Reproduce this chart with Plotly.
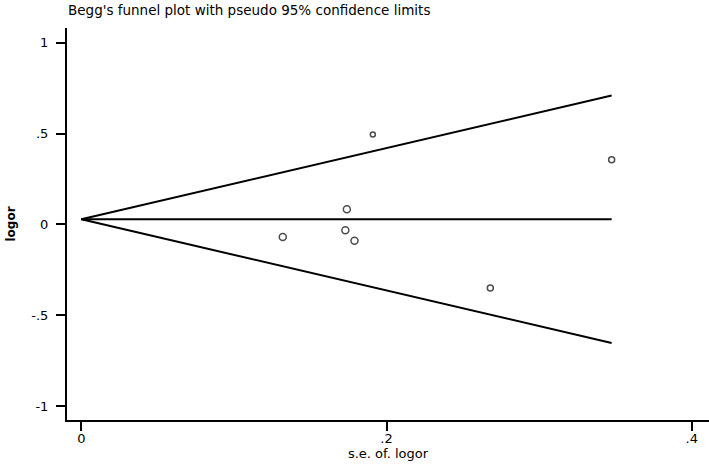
import plotly.graph_objects as go

# study estimates
se_logor = [0.132, 0.173, 0.174, 0.179, 0.191, 0.268, 0.3475]
logor = [-0.070, -0.033, 0.083, -0.090, 0.495, -0.350, 0.356]
pooled = 0.028

x_ticks = [0, 0.2, 0.4]
x_ticktext = ['0', '.2', '.4']
y_ticks = [1, 0.5, 0, -0.5, -1]
y_ticktext = ['1', '.5', '0', '-.5', '-1']

# pseudo 95% limits around the pooled estimate
se_max = max(se_logor)
se_line = [0, se_max]
upper = [pooled + 1.96 * s for s in se_line]
lower = [pooled - 1.96 * s for s in se_line]

marker_sizes = [7, 7, 7, 7, 5, 6, 6]

fig = go.Figure()

line_style = dict(color='black', width=2)
fig.add_trace(go.Scatter(x=se_line, y=upper, mode='lines', line=line_style, hoverinfo='skip'))
fig.add_trace(go.Scatter(x=se_line, y=lower, mode='lines', line=line_style, hoverinfo='skip'))
fig.add_trace(go.Scatter(x=se_line, y=[pooled, pooled], mode='lines', line=line_style, hoverinfo='skip'))

fig.add_trace(go.Scatter(
    x=se_logor,
    y=logor,
    mode='markers',
    marker=dict(symbol='circle-open', size=marker_sizes, color='black', line=dict(width=1.5))
))

font_name = 'DejaVu Sans, Verdana, sans-serif'
axis_font = dict(family=font_name, size=13, color='black')

fig.update_layout(
    width=709,
    height=464,
    showlegend=False,
    plot_bgcolor='white',
    paper_bgcolor='white',
    margin=dict(l=67, r=0, t=28, b=44),
    title=dict(
        text="Begg's funnel plot with pseudo 95% confidence limits",
        x=68 / 709,
        xanchor='left',
        y=1 - 10 / 464,
        yanchor='middle',
        font=dict(family=font_name, size=13.5, color='black')
    )
)

fig.update_xaxes(
    range=[-0.0094, 0.4113],
    tickvals=x_ticks,
    ticktext=x_ticktext,
    showgrid=False,
    zeroline=False,
    showline=True,
    linecolor='black',
    linewidth=2,
    ticks='outside',
    ticklen=9,
    tickwidth=2,
    tickcolor='black',
    tickfont=axis_font,
    ticklabelstandoff=-4,
    automargin=False,
    title=dict(text='s.e. of. logor', font=dict(family=font_name, size=13, color='black'), standoff=2)
)

fig.update_yaxes(
    range=[-1.077, 1.081],
    tickvals=y_ticks,
    ticktext=y_ticktext,
    showgrid=False,
    zeroline=False,
    showline=True,
    linecolor='black',
    linewidth=2,
    ticks='outside',
    ticklen=9,
    tickwidth=2,
    tickcolor='black',
    tickfont=axis_font,
    ticklabelstandoff=5,
    automargin=False,
    title=dict(text='<b>logor</b>', font=dict(family=font_name, size=12, color='black'), standoff=13)
)

fig.write_html(
    "out.html",
    config={'displayModeBar': False},
    post_script="document.body.style.margin = '0';"
)
